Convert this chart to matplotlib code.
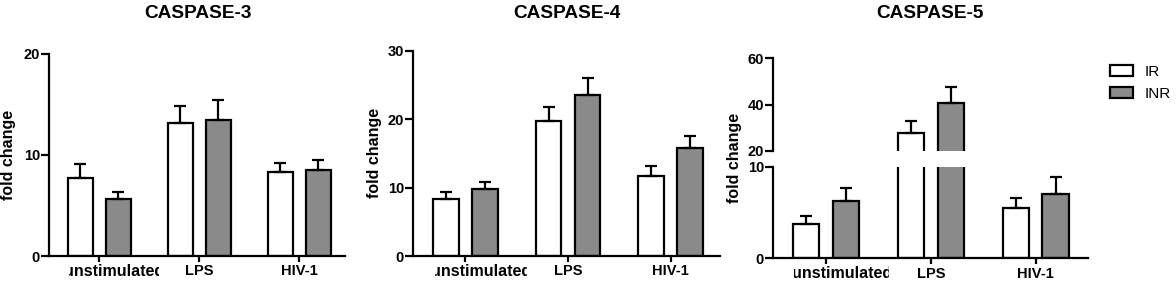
import numpy as np
import matplotlib
matplotlib.use("Agg")
import matplotlib.pyplot as plt
from matplotlib.patches import Patch
from matplotlib.transforms import Bbox, TransformedBbox, blended_transform_factory

# datos
grupos = ["unstimulated", "LPS", "HIV-1"]
series = ["IR", "INR"]

casp3_ir = [7.7, 13.2, 8.35]
casp3_ir_err = [1.4, 1.65, 0.85]
casp3_inr = [5.6, 13.5, 8.5]
casp3_inr_err = [0.7, 1.95, 1.05]

casp4_ir = [8.3, 19.7, 11.7]
casp4_ir_err = [1.1, 2.1, 1.4]
casp4_inr = [9.75, 23.6, 15.8]
casp4_inr_err = [1.15, 2.5, 1.7]

casp5_ir = [3.75, 27.5, 5.5]
casp5_ir_err = [0.9, 5.4, 1.05]
casp5_inr = [6.25, 40.8, 7.0]
casp5_inr_err = [1.4, 6.9, 1.9]

plt.rcParams['font.family'] = ['Liberation Sans', 'DejaVu Sans']

COLOR_IR = "white"
COLOR_INR = "#8a8a8a"
LW = 1.6
x = np.arange(len(grupos))
off = 0.19
w = 0.25

fig = plt.figure(figsize=(11.76, 2.81), dpi=100)
H = 281.0
Wf = 1176.0


def ax_px(left, right, top, bottom):
    # caja de ejes en pixeles -> fraccion de figura
    return fig.add_axes([left / Wf, (H - bottom) / H, (right - left) / Wf, (bottom - top) / H])


def barras(ax, ir, ir_err, inr, inr_err):
    ax.bar(x - off, ir, w, color=COLOR_IR, edgecolor="black", linewidth=LW,
           yerr=[np.zeros(3), ir_err], error_kw=dict(ecolor="black", elinewidth=LW, capsize=4.5, capthick=LW))
    ax.bar(x + off, inr, w, color=COLOR_INR, edgecolor="black", linewidth=LW,
           yerr=[np.zeros(3), inr_err], error_kw=dict(ecolor="black", elinewidth=LW, capsize=4.5, capthick=LW))


def estilo(ax, ejex=True):
    ax.spines["top"].set_visible(False)
    ax.spines["right"].set_visible(False)
    ax.spines["left"].set_linewidth(LW)
    ax.spines["bottom"].set_linewidth(LW)
    ax.tick_params(axis="y", length=5.5, width=LW, labelsize=10.5, pad=1)
    for t in ax.get_yticklabels():
        t.set_fontweight("bold")
    if ejex:
        ax.set_xticks(x)
        ax.set_xticklabels([""] + grupos[1:], fontsize=10.5, fontweight="bold")
        ax.tick_params(axis="x", length=4, width=LW, pad=2)
        # "unstimulated" sale desplazada y recortada en el original
        trans = blended_transform_factory(ax.transData, ax.transAxes)
        t = ax.annotate(grupos[0], xy=(x[0] + 0.15, 0), xycoords=trans, xytext=(0, -5.5),
                        textcoords="offset points", ha="center", va="top", fontsize=11.5,
                        fontweight="bold", annotation_clip=False)
        tclip = blended_transform_factory(ax.transData, fig.transFigure)
        t.set_clip_box(TransformedBbox(Bbox([[x[0] - 0.30, 0.0], [x[0] + 0.60, 1.0]]), tclip))
        t.set_clip_on(True)
    else:
        ax.spines["bottom"].set_visible(False)
        ax.set_xticks([])


# CASPASE-3
ax1 = ax_px(49, 345, 54, 256)
barras(ax1, casp3_ir, casp3_ir_err, casp3_inr, casp3_inr_err)
ax1.set_xlim(-0.5, 2.46)
ax1.set_ylim(0, 20)
ax1.set_yticks([0, 10, 20])
estilo(ax1)
fig.text(198 / Wf, 1 - 14 / H, "CASPASE-3", ha="center", va="center", fontsize=13.7, fontweight="bold")
fig.text(9 / Wf, 1 - 155 / H, "fold change", rotation=90, ha="center", va="center", fontsize=11.5, fontweight="bold")

# CASPASE-4
ax2 = ax_px(413, 720, 51, 256)
barras(ax2, casp4_ir, casp4_ir_err, casp4_inr, casp4_inr_err)
ax2.set_xlim(-0.51, 2.48)
ax2.set_ylim(0, 30)
ax2.set_yticks([0, 10, 20, 30])
estilo(ax2)
fig.text(567 / Wf, 1 - 14 / H, "CASPASE-4", ha="center", va="center", fontsize=13.7, fontweight="bold")
fig.text(375 / Wf, 1 - 153 / H, "fold change", rotation=90, ha="center", va="center", fontsize=11.5, fontweight="bold")

# CASPASE-5 (eje cortado)
ax3b = ax_px(773, 1088, 166.7, 258.3)
barras(ax3b, casp5_ir, casp5_ir_err, casp5_inr, casp5_inr_err)
ax3b.set_xlim(-0.505, 2.5)
ax3b.set_ylim(0, 10)
ax3b.set_yticks([0, 10])
estilo(ax3b)

ax3t = ax_px(773, 1088, 58.3, 150.7)
barras(ax3t, casp5_ir, casp5_ir_err, casp5_inr, casp5_inr_err)
ax3t.set_xlim(-0.505, 2.5)
ax3t.set_ylim(20, 60)
ax3t.set_yticks([20, 40, 60])
estilo(ax3t, ejex=False)
fig.text(930 / Wf, 1 - 14 / H, "CASPASE-5", ha="center", va="center", fontsize=13.7, fontweight="bold")
fig.text(735 / Wf, 1 - 158 / H, "fold change", rotation=90, ha="center", va="center", fontsize=11.5, fontweight="bold")

handles = [Patch(facecolor=COLOR_IR, edgecolor="black", linewidth=LW, label=series[0]),
           Patch(facecolor=COLOR_INR, edgecolor="black", linewidth=LW, label=series[1])]
fig.legend(handles=handles, loc="upper left", bbox_to_anchor=(1110 / Wf, 1 - 65 / H), frameon=False,
           fontsize=11, handlelength=1.5, handleheight=0.72, handletextpad=0.75, labelspacing=0.5,
           borderpad=0, borderaxespad=0)

plt.savefig("out.png", dpi=100)
